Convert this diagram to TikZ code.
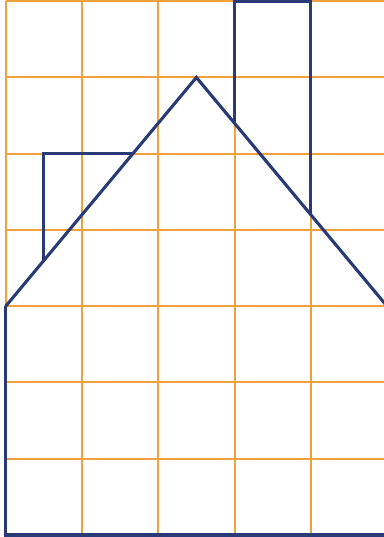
\documentclass[tikz,border=0pt]{standalone}
\definecolor{gridorange}{RGB}{240,160,60}
\definecolor{houseblue}{RGB}{40,58,120}
\begin{document}
\begin{tikzpicture}[gridline/.style={gridorange, line width=0.75pt},
  houseline/.style={houseblue, line width=1.15pt, line join=miter}]
\useasboundingbox (-0.075,-0.026) rectangle (4.96,7.015);
\draw[gridline] (0,0) grid (5,7);

\coordinate (base left) at (0,3);
\coordinate (base right) at (5,3);
\coordinate (apex) at (2.5,6);

% walls and roof
\draw[houseline] (base left) -- (0,0) -- (5,0) -- (base right);
\draw[houseline] (base left) -- (apex) -- (base right);
% chimney
\draw[houseline] (3,5.4) -- (3,7) -- (4,7) -- (4,4.2);
% left box
\draw[houseline] (0.5,3.6) -- (0.5,5) -- (5/3,5);
\end{tikzpicture}
\end{document}
